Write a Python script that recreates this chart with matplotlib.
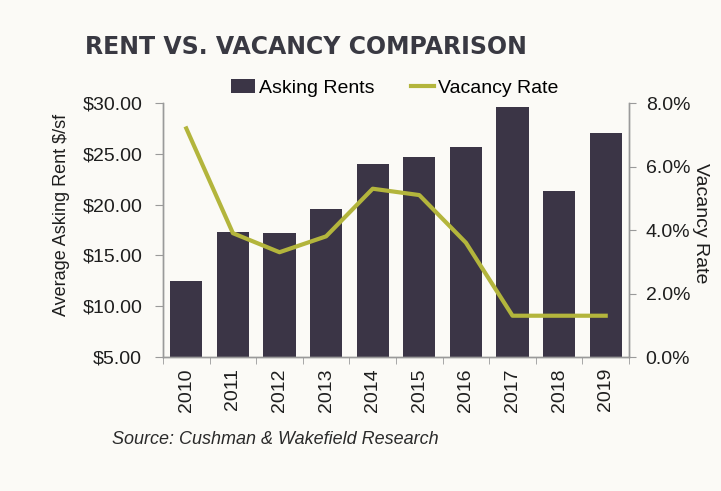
import matplotlib.pyplot as plt
from matplotlib.patches import Patch
from matplotlib.lines import Line2D

years = ['2010', '2011', '2012', '2013', '2014', '2015', '2016', '2017', '2018', '2019']
asking_rents = [12.5, 17.3, 17.2, 19.6, 24.0, 24.7, 25.7, 29.6, 21.3, 27.0]
vacancy_rate = [7.2, 3.9, 3.3, 3.8, 5.3, 5.1, 3.6, 1.3, 1.3, 1.3]
rent_ticks = [5, 10, 15, 20, 25, 30]
vac_ticks = [0, 2, 4, 6, 8]

bg = '#fbfaf6'
bar_color = '#3b3546'
line_color = '#b3b53c'
text_color = '#1e1e1e'
spine_color = '#9a9a9a'

plt.rcParams['font.family'] = ['Liberation Sans', 'DejaVu Sans']

fig = plt.figure(figsize=(7.21, 4.91), dpi=100, facecolor=bg)
ax = fig.add_axes([163 / 721, 1 - 357 / 491, 466 / 721, 254 / 491])
ax.set_facecolor('none')

x = list(range(len(years)))
ax.bar(x, asking_rents, width=0.69, color=bar_color, bottom=0)
ax.set_ylim(5, 30)
ax.set_xlim(-0.5, len(years) - 0.5)
ax.set_yticks(rent_ticks)
ax.set_yticklabels(['\\$%.2f' % v for v in rent_ticks], fontsize=14, color=text_color)
ax.set_xticks(x)
ax.set_xticklabels(years, rotation=90, fontsize=14, color=text_color)
ax.tick_params(axis='x', length=0, pad=8)
ax.set_xticks([i - 0.5 for i in range(len(years) + 1)], minor=True)
ax.tick_params(axis='x', which='minor', length=5, color=spine_color, direction='out')
ax.tick_params(axis='y', length=6, color=spine_color, pad=9)
ax.set_ylabel('Average Asking Rent \\$/sf', fontsize=13, color=text_color, va='center')
ax.yaxis.set_label_coords((62 - 163) / 466, 0.56)

ax2 = ax.twinx()
ax2.plot(x, vacancy_rate, color=line_color, linewidth=3)
ax2.set_ylim(0, 8)
ax2.set_yticks(vac_ticks)
ax2.set_yticklabels(['%.1f%%' % v for v in vac_ticks], fontsize=14, color=text_color)
ax2.tick_params(axis='y', length=5, color=spine_color, pad=7)
ax2.set_ylabel('Vacancy Rate', fontsize=14, color=text_color, rotation=270, va='center')
ax2.yaxis.set_label_coords((700 - 163) / 466, 0.525)

for a in (ax, ax2):
    a.spines['top'].set_visible(False)
    for s in ('left', 'right', 'bottom'):
        a.spines[s].set_color(spine_color)
        a.spines[s].set_linewidth(1)

handles = [Patch(facecolor=bar_color, label='Asking Rents'),
           Line2D([0], [0], color=line_color, linewidth=3, label='Vacancy Rate')]
fig.legend(handles=handles, loc='center', bbox_to_anchor=(395 / 721, 1 - 88 / 491),
           ncol=2, frameon=False, fontsize=14, handlelength=1.2, handletextpad=0.2,
           columnspacing=1.9)

fig.text(85 / 721, 1 - 47 / 491, 'RENT VS. VACANCY COMPARISON', fontsize=17,
         fontweight='bold', color='#393942', family='DejaVu Sans', va='center', ha='left')
fig.text(112 / 721, 1 - 440 / 491, 'Source: Cushman & Wakefield Research', fontsize=13,
         style='italic', color='#2a2a2a', va='center', ha='left')

fig.savefig('out.png', dpi=100, facecolor=bg)
